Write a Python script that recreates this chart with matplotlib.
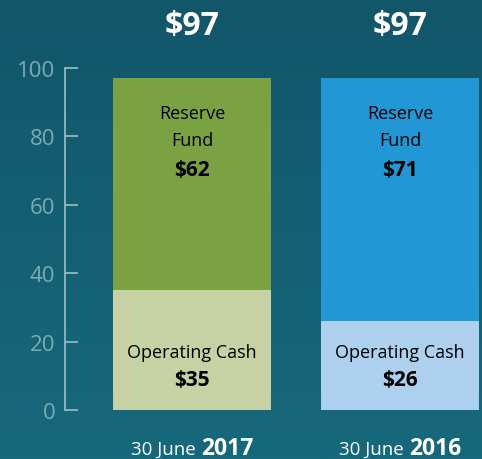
import numpy as np
import matplotlib
matplotlib.use('Agg')
import matplotlib.pyplot as plt
from matplotlib.colors import LinearSegmentedColormap

# data
dates = ['2017', '2016']
operating = [35, 26]
reserve = [62, 71]
totals = [97, 97]

dark_cols = ['#7aa243', '#2197d6']
light_cols = ['#c6d2a4', '#acd0ee']

plt.rcParams['font.family'] = ['Open Sans', 'DejaVu Sans']

fig = plt.figure(figsize=(4.82, 4.60), dpi=100)

# background gradient
bg = fig.add_axes([0, 0, 1, 1], zorder=0)
cmap = LinearSegmentedColormap.from_list('bg', ['#12566a', '#16697b'])
grad = np.linspace(0, 1, 256).reshape(-1, 1)
bg.imshow(grad, aspect='auto', cmap=cmap, extent=[0, 1, 0, 1], origin='upper')
bg.axis('off')

ax = fig.add_axes([65 / 482, 49 / 460, 417 / 482, 342 / 460], zorder=1)
ax.patch.set_alpha(0)

x = np.arange(len(dates))
w = 0.76
ax.bar(x, operating, width=w, color=light_cols)
ax.bar(x, reserve, width=w, bottom=operating, color=dark_cols)

ax.set_xlim(-0.611, 1.394)
ax.set_ylim(0, 100)

for s in ['top', 'right', 'bottom']:
    ax.spines[s].set_visible(False)
ax.spines['left'].set_color('#9cbfc6')
ax.spines['left'].set_linewidth(1.2)
ax.set_xticks([])
ax.set_yticks(range(0, 101, 20))
ax.tick_params(axis='y', direction='in', length=9, width=1.2, color='#9cbfc6',
               labelcolor='#7eaab4', labelsize=16, pad=7)

for i in x:
    ax.text(i, 112.4, '$%d' % totals[i], ha='center', va='center', color='white',
            fontsize=23, fontweight='bold', clip_on=False)
    ax.text(i, 86.8, 'Reserve', ha='center', va='center', fontsize=13, color='black')
    ax.text(i, 78.9, 'Fund', ha='center', va='center', fontsize=13, color='black')
    ax.text(i, 70.3, '$%d' % reserve[i], ha='center', va='center', fontsize=15,
            fontweight='bold', color='black')
    ax.text(i, 17, 'Operating Cash', ha='center', va='center', fontsize=13, color='black')
    ax.text(i, 8.8, '$%d' % operating[i], ha='center', va='center', fontsize=15,
            fontweight='bold', color='black')
    ax.text(i + 0.02, -11.2, '30 June', ha='right', va='center', fontsize=13.5,
            color='white', clip_on=False)
    ax.text(i + 0.045, -11.2, dates[i], ha='left', va='center', fontsize=16.5,
            fontweight='bold', color='white', clip_on=False)

fig.savefig('out.png', dpi=100)
